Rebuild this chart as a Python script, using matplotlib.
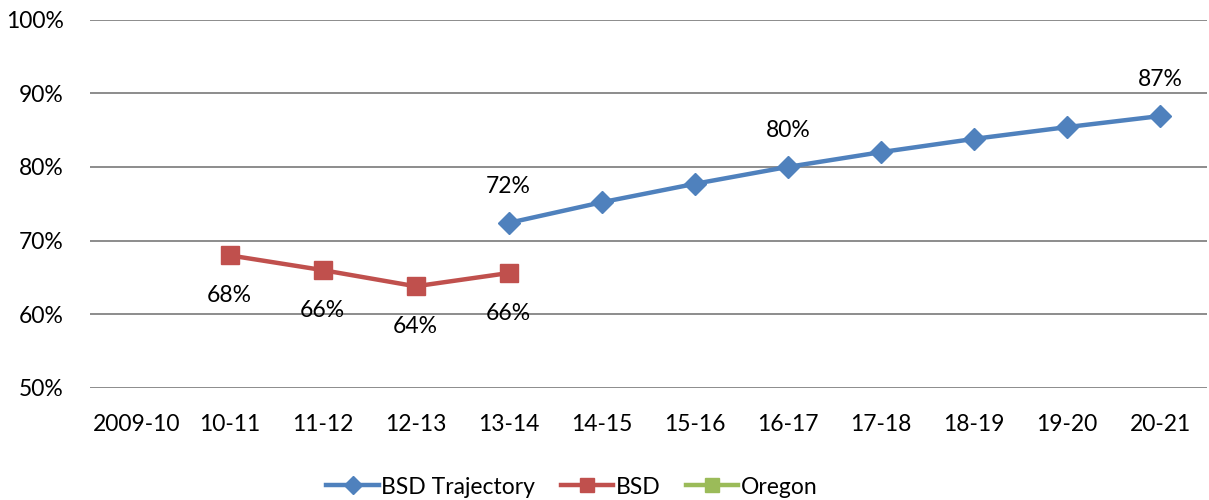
import matplotlib.pyplot as plt
import numpy as np

plt.rcParams["font.family"] = ["Lato", "DejaVu Sans"]

years = ["2009-10", "10-11", "11-12", "12-13", "13-14", "14-15",
         "15-16", "16-17", "17-18", "18-19", "19-20", "20-21"]
nan = np.nan
trajectory = [nan, nan, nan, nan, 72.4, 75.2, 77.7, 80.0, 82.0, 83.8, 85.4, 86.9]
bsd = [nan, 68.0, 66.0, 63.8, 65.6, nan, nan, nan, nan, nan, nan, nan]
oregon = [nan] * len(years)
trajectory_labeled = [4, 7, 11]

FS = 16.5

fig = plt.figure(figsize=(12.09, 5.0), dpi=100)
ax = fig.add_axes([0.0744, 0.224, 0.9236, 0.737])

x = np.arange(len(years))
ax.plot(x, trajectory, color="#4F81BD", lw=3.2, marker="D", ms=11,
        label="BSD Trajectory", zorder=3)
ax.plot(x, bsd, color="#C0504D", lw=3.2, marker="s", ms=13,
        label="BSD", zorder=3)
ax.plot(x, oregon, color="#9BBB59", lw=3.2, marker="s", ms=13,
        label="Oregon", zorder=3)

for i in trajectory_labeled:
    ax.annotate(f"{trajectory[i]:.0f}%", (x[i], trajectory[i]),
                xytext=(0, 26), textcoords="offset points",
                ha="center", va="center", fontsize=FS, color="black")
for i, v in enumerate(bsd):
    if not np.isnan(v):
        ax.annotate(f"{v:.0f}%", (x[i], v), xytext=(0, -29),
                    textcoords="offset points", ha="center", va="center",
                    fontsize=FS, color="black")

ax.set_xlim(-0.5, len(years) - 0.5)
ax.set_ylim(50, 100)
ax.set_yticks(np.arange(50, 101, 10))
ax.set_yticklabels([f"{v}%" for v in range(50, 101, 10)])
ax.set_xticks(x)
ax.set_xticklabels(years)
ax.tick_params(length=0, labelsize=FS)
ax.tick_params(axis="x", pad=19)
ax.tick_params(axis="y", pad=19)
ax.grid(axis="y", color="#8C8C8C", lw=1.4)
ax.set_axisbelow(True)
for s in ax.spines.values():
    s.set_visible(False)

fig.legend(loc="center", bbox_to_anchor=(0.473, 0.026), ncol=3, frameon=False,
           fontsize=FS, handlelength=2.3, columnspacing=1.1, handletextpad=0.1,
           markerscale=0.8)

fig.savefig("out.png", dpi=100, facecolor="white")
